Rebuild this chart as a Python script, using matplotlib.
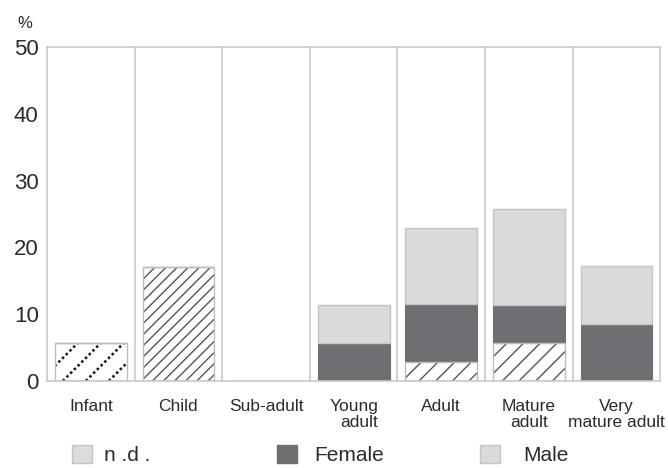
import numpy as np
import matplotlib
matplotlib.use("Agg")
import matplotlib.pyplot as plt
from matplotlib.patches import Patch
from matplotlib.transforms import IdentityTransform

# percentages of individuals per age class (n = 35)
categories = ["Infant", "Child", "Sub-adult", "Young\nadult", "Adult", "Mature\nadult", "Very\nmature adult"]
nd = [5.7, 17.1, 0.0, 0.0, 2.9, 5.7, 0.0]
female = [0.0, 0.0, 0.0, 5.7, 8.6, 5.7, 8.6]
male = [0.0, 0.0, 0.0, 5.7, 11.4, 14.3, 8.6]
yticks = [0, 10, 20, 30, 40, 50]

plt.rcParams['font.family'] = ['Liberation Sans', 'DejaVu Sans']

fig = plt.figure(figsize=(6.68, 4.68), dpi=100)
ax = fig.add_axes([0.0704, 0.186, 0.918, 0.7136])

x = np.arange(len(categories))
w = 0.82
grid_c = '#c9c9c9'
text_c = '#2b2b2b'
female_c = '#6e6f72'
male_c = '#d9dadc'

# n.d. hatched part (child denser than the adult ones), infant dotted hatch drawn later
for i, v in enumerate(nd):
    if v <= 0 or i == 0:
        continue
    ax.bar(x[i], v, w, color='white', edgecolor='#555555',
           hatch='///' if i == 1 else '//', linewidth=0, zorder=2)
    ax.bar(x[i], v, w, color='none', edgecolor='#bdbdbd', linewidth=1.0, zorder=3)

infant_bar = ax.bar(x[0], nd[0], w, color='white', linewidth=0, zorder=2)[0]
ax.bar(x[0], nd[0], w, color='none', edgecolor='#bdbdbd', linewidth=1.0, zorder=3)

bottom = np.array(nd)
ax.bar(x, female, w, bottom=bottom, color=female_c, edgecolor=female_c, linewidth=0.8, zorder=2)
bottom = bottom + np.array(female)
ax.bar(x, male, w, bottom=bottom, color=male_c, edgecolor='#c4c5c7', linewidth=1.0, zorder=2)

ax.set_xlim(-0.5, len(categories) - 0.5)
ax.set_ylim(0, 50)
ax.set_yticks(yticks)
ax.set_yticklabels([str(t) for t in yticks], fontsize=16, color=text_c)
ax.set_xticks(x)
ax.set_xticklabels(categories, fontsize=12.5, color=text_c, linespacing=1.05)
for lab in ax.get_xticklabels():
    if lab.get_text().startswith("Young"):
        lab.set_multialignment('right')
ax.tick_params(axis='both', length=0)
ax.tick_params(axis='x', pad=13)
ax.tick_params(axis='y', pad=6)

for b in np.arange(0.5, len(categories) - 0.5, 1.0):
    ax.axvline(b, color=grid_c, linewidth=1.2, zorder=1)
for s in ax.spines.values():
    s.set_color(grid_c)
    s.set_linewidth(1.2)

fig.text(0.026, 0.94, "%", fontsize=12, color=text_c)

# dotted diagonal hatch for the infant bar
fig.canvas.draw()
bb = infant_bar.get_window_extent()
step = 23
for off in np.arange(-bb.height, bb.width + step, step):
    xs = [bb.x0 + off, bb.x0 + off + bb.height]
    ys = [bb.y0, bb.y1]
    ln, = ax.plot(xs, ys, transform=IdentityTransform(), color='#111111',
                  linewidth=1.8, linestyle=(0, (1, 1.1)), zorder=2.5)
    ln.set_clip_path(infant_bar)

handles = [Patch(facecolor='#dcdcde', edgecolor='#c4c4c4'),
           Patch(facecolor=female_c, edgecolor=female_c),
           Patch(facecolor=male_c, edgecolor='#c4c5c7')]
labels = ["n .d .", "Female", "Male"]
xpos = [0.108, 0.415, 0.719]
pads = [0.6, 0.85, 1.1]
for h, l, xp, pd_ in zip(handles, labels, xpos, pads):
    fig.legend([h], [l], loc='center left', bbox_to_anchor=(xp, 0.028),
               frameon=False, fontsize=15, handlelength=0.95, handleheight=0.95,
               handletextpad=pd_, borderpad=0, borderaxespad=0, labelcolor=text_c)

fig.savefig("out.png", dpi=100)
